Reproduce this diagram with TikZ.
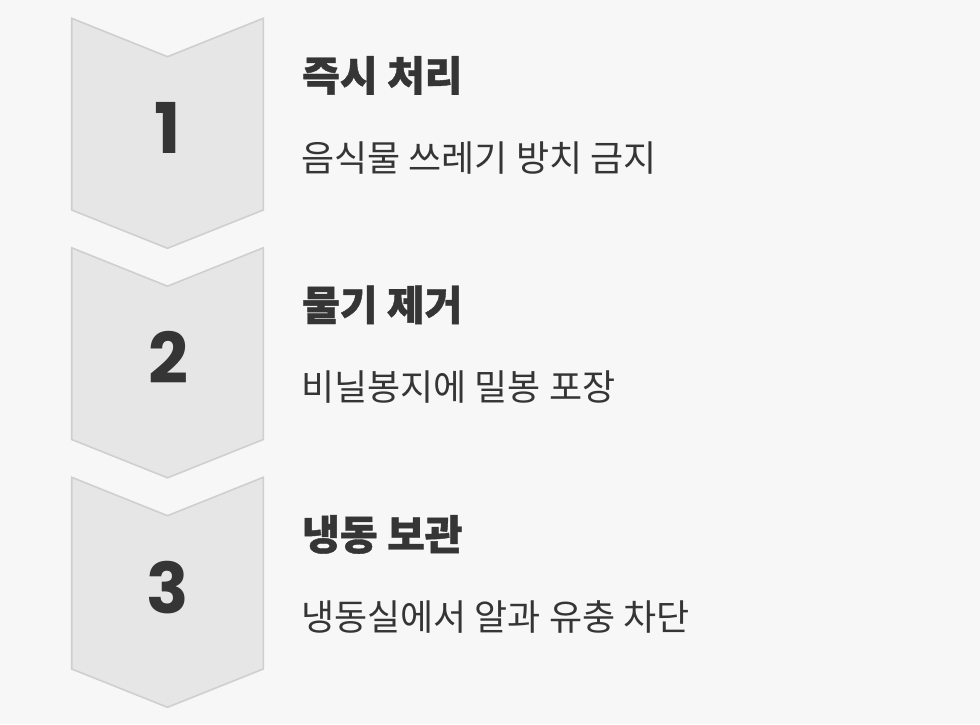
\documentclass[tikz,border=0pt]{standalone}
\usepackage{fontspec}
\setmainfont{Noto Sans CJK KR}[BoldFeatures={FakeBold=1}]
\newfontfamily\numfont{Poppins}
\usetikzlibrary{calc}
\definecolor{pagebg}{HTML}{F7F7F7}
\definecolor{chevfill}{HTML}{E6E6E6}
\definecolor{chevline}{HTML}{CFCFCF}
\definecolor{ink}{HTML}{353535}
\newcommand{\chevron}[1]{
  (71.7,#1) -- (167.5,#1+38.4) -- (263.3,#1) -- (263.3,#1+191.7)
  -- (167.5,#1+230) -- (71.7,#1+191.7) -- cycle
}

\begin{document}
\begin{tikzpicture}[x=1pt,y=-1pt]
\tikzstyle{chev}=[fill=chevfill,draw=chevline,line width=1.6pt,line join=miter]
\tikzstyle{num}=[text=ink,font=\numfont\bfseries\fontsize{70}{70}\selectfont,inner sep=0pt]
\tikzstyle{title}=[text=ink,font=\bfseries\fontsize{41}{41}\selectfont,anchor=base west,inner sep=0pt]
\tikzstyle{desc}=[text=ink,font=\fontsize{36}{36}\selectfont,anchor=base west,inner sep=0pt]
\fill[pagebg] (0,0) rectangle (980,724);
\useasboundingbox (0,0) rectangle (980,724);
%\draw[red] (303,0) -- (303,724);
\foreach \i/\head/\body in {1/즉시 처리/음식물 쓰레기 방치 금지,
                           2/물기 제거/비닐봉지에 밀봉 포장,
                           3/냉동 보관/냉동실에서 알과 유충 차단} {
  \pgfmathsetmacro{\top}{18.3+229.5*(\i-1)}
  \draw[chev] \chevron{\top};
  \node[num] (n\i) at (168,\top+110) {\i};
  \node[title] (t\i) at (302,\top+72.5) {\head};
  \node[desc] (d\i) at (301,\top+153) {\body};
}
\end{tikzpicture}
\end{document}
